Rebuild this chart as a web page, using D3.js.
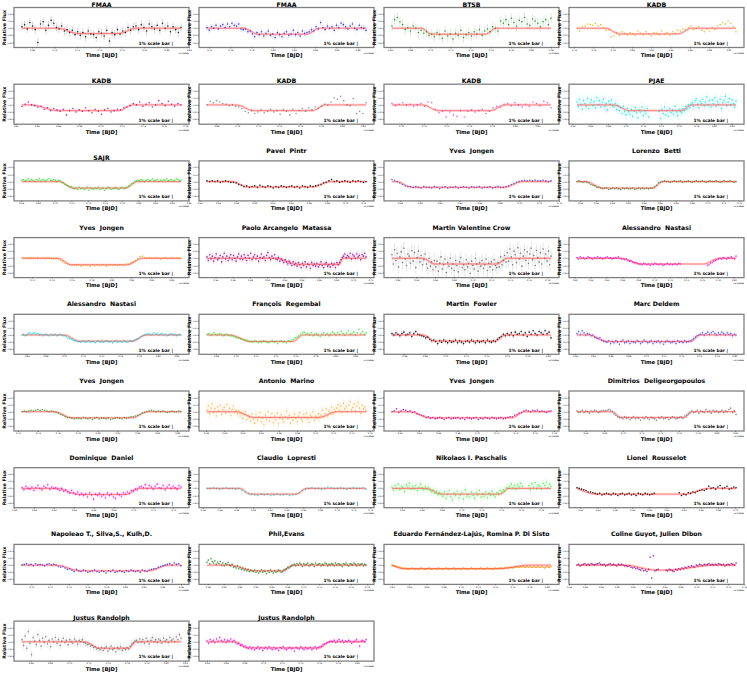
<!DOCTYPE html>
<html>
<head>
<meta charset="utf-8">
<script src="https://cdn.jsdelivr.net/npm/d3@7"></script>
<style>
  body { margin: 0; background: #fff; }
  text { font-family: "DejaVu Sans", sans-serif; }
</style>
</head>
<body>
<script>
// Panel titles, in reading order (4 per row)
const titles = [
  "FMAA", "FMAA", "BTSB", "KADB",
  "KADB", "KADB", "KADB", "PJAE",
  "SAJR", "Pavel  Pintr", "Yves  Jongen", "Lorenzo  Betti",
  "Yves  Jongen", "Paolo Arcangelo  Matassa", "Martin Valentine Crow", "Alessandro  Nastasi",
  "Alessandro  Nastasi", "François  Regembal", "Martin  Fowler", "Marc Deldem",
  "Yves  Jongen", "Antonio  Marino", "Yves  Jongen", "Dimitrios  Deligeorgopoulos",
  "Dominique  Daniel", "Claudio  Lopresti", "Nikolaos I. Paschalis", "Lionel  Rousselot",
  "Napoleao T., Silva,S., Kulh,D.", "Phil,Evans", "Eduardo Fernández-Lajús, Romina P. Di Sisto", "Coline Guyot, Julien Dibon",
  "Justus Randolph", "Justus Randolph"
];

// titles that sit right on the frame (short codes)
const lowTitles = [0, 1, 2, 3, 4, 5, 6, 7, 8, 32, 33];

const pointColors = [
  "#000000", "#1f1fff", "#118811", "#ffa500",
  "#b000b0", "#808080", "#ff33cc", "#00eeee",
  "#22ee22", "#000000", "#4444ff", "#2e8b2e",
  "#ffa020", "#990099", "#666666", "#ff00ff",
  "#00e5ee", "#33ee33", "#000000", "#4d4dff",
  "#2ca02c", "#ffb040", "#c000c0", "#808080",
  "#ff00ff", "#00dddd", "#33ff33", "#000000",
  "#3333ff", "#2e8b2e", "#ff8c00", "#990099",
  "#777777", "#ff00ff"
];

// error bar half size (ppt)
const errSizes = [
  6, 4, 7, 0,
  0, 0, 0, 6,
  1, 1.5, 1, 0.8,
  1, 4, 9, 1,
  1.2, 2, 3, 3,
  1, 6, 1.2, 2,
  3, 1, 5, 1.5,
  1.2, 2, 0.6, 1.5,
  5, 2.5
];

// transit depth of the model (ppt)
const depths = [
  7.5, 8.4, 8.4, 8,
  8, 8, 8, 8,
  9, 7.5, 8, 9,
  9, 8.4, 8, 8,
  8.5, 9, 8.5, 9,
  8.5, 8, 8.5, 8,
  8.5, 8, 8, 8,
  8, 8, 5, 7,
  9, 8.5
];

// model contact points as fraction of the observing window
const contacts = [
  [0.227, 0.352, 0.611, 0.714], [0.229, 0.322, 0.625, 0.708], [0.186, 0.248, 0.588, 0.654], [0.182, 0.265, 0.637, 0.72],
  [0.062, 0.218, 0.611, 0.693], [0.187, 0.291, 0.666, 0.739], [0.196, 0.289, 0.619, 0.711], [0.233, 0.327, 0.658, 0.72],
  [0.238, 0.321, 0.652, 0.725], [0.166, 0.25, 0.666, 0.77], [0.031, 0.123, 0.711, 0.814], [0.057, 0.161, 0.481, 0.534],
  [0.227, 0.311, 0.662, 0.756], [0.437, 0.562, 0.832, 0.853], [0.196, 0.268, 0.66, 0.722], [0.288, 0.39, 0.798, 0.892],
  [0.269, 0.357, 0.693, 0.78], [0.146, 0.27, 0.541, 0.603], [0.196, 0.268, 0.65, 0.711], [0.078, 0.181, 0.717, 0.771],
  [0.207, 0.311, 0.693, 0.787], [0.187, 0.291, 0.708, 0.812], [0.114, 0.237, 0.752, 0.835], [0.223, 0.275, 0.677, 0.72],
  [0.217, 0.362, 0.652, 0.735], [0.208, 0.27, 0.562, 0.625], [0.216, 0.31, 0.681, 0.731], [0.0, 0.12, 0.678, 0.827],
  [0.217, 0.362, 0.797, 0.921], [0.146, 0.291, 0.478, 0.541], [0.0, 0.073, 0.68, 0.856], [0.308, 0.49, 0.573, 0.863],
  [0.393, 0.487, 0.673, 0.715], [0.177, 0.25, 0.708, 0.77]
];

// observing windows: start (BJD - 2459000) and length in days
const timeStarts = [
  0.671, 0.738, 0.662, 0.743, 0.626, 0.671, 0.692, 0.645,
  0.661, 0.548, 0.572, 0.536, 0.710, 0.530, 0.614, 0.603,
  0.655, 0.671, 0.648, 0.622, 0.724, 0.581, 0.612, 0.651,
  0.588, 0.545, 0.630, 0.516, 0.690, 0.579, 0.620, 0.550,
  0.651, 0.640
];
const timeSpans = [
  0.142, 0.150, 0.158, 0.165, 0.150, 0.152, 0.140, 0.180,
  0.190, 0.175, 0.160, 0.200, 0.160, 0.185, 0.170, 0.200,
  0.170, 0.160, 0.155, 0.180, 0.160, 0.175, 0.165, 0.170,
  0.160, 0.190, 0.160, 0.185, 0.170, 0.200, 0.185, 0.200,
  0.165, 0.170
];

// relative flux minus one, in parts per thousand; null = no data
const _ = null;
const fluxes = [
  [2,5,-1,8,3,-2,-20,6,9,-3,4,11,7,1, -1,3,-4,-2,-6,-3,-9,-5, -10,-6,-12,-4,-8,-9,-13,-5,-7,-11,-3,-18,-6,-9,-2, -8,-4,-6,1,-3,2, 3,-2,5,1,-4,6,2,-1,4,-3,7,0,3,-5,2,-2,-6,1],
  [1,-3,2,0,4,-1,3,5,1,6,2,7,4,3,6,-1, -2,-1,-5,-4,-8,-12,-6, -9,-5,-11,-7,-4,-10,-8,-13,-6,-9,-12,-7,-5,-10,-8,-3,-9,-6,-11,-4,-7, -6,-5,-2,-4,2,-1, 8,1,-2,3,0,2,-3,4,1,7,5,2,-1,3,6,0,-2,4,1,0,-3],
  [3,12,15,9,5,-2,1,-4,3,0,-6, -3,-7,-5,-10,-8, -12,-6,-9,-14,-4,-11,-8,-15,-7,-10,-3,-13,-9,-6,-11,-5,-8,-2,-10,-4, -1,-5,2,0, -4,10,7,12,5,14,8,3,11,9,15,6,4,13,10,7,2,9,12,5,14],
  [0,-4,2,3,6,5,4,7,3,5,1, -3,-2,-12,-11,-6,-10, -5,-7,-9,-6,-8,-10,-4,-7,-9,-5,-8,-11,-6,-7,-9,-4,-8,-6,-10,-5,-7,-3, -4,-1,-2,1,3, -2,0,2,-3,-5,-1,-4,1,-2,3,5,8,6,10,7,2,-5],
  [-2,1,4,0, -1,-3,-2,-6,-4,-8,-5,-7, -9,-6,-14,-8,-5,-10,-7,-9,-4,-8,-11,-6,-9,-13,-7,-5,-10,-8,-6, -7,-4,-3,-1,2, 0,4,-2,1,3,-3,0,6,2,-1,5,1,-2,2,0],
  [0,5,3,6,4,2,1,-1,0,-2, -3,-5,-9,-11,-8, -12,-10,-7,-11,-9,-6,-10,-8,-13,-7,-9,-14,-6,-12,-8,-5,-9,-4,-7, -3,-5,-2,1, 0,4,10,8,12,6,0,-1,9,-12,-9,-12,3],
  [2,-1,1,3,0,1,-2,0,2, -2,4,3,-6, -11,-9,-17,-10,-14,-16,-8,-17,-9,-7,-10,-8,-6,-12,-9, -4,-2,-3,1, 2,-1,3,0,-3,1,-2,4,2,-1,5,3,-4],
  [4,-3,8,1,-6,6,2,-2,9,-5,3,7,-1,5,-4,10,0,6,-3,4,8,-2,2,-7,5,1,7,-1, -3,2,-6,-1,-8,-4,-12,-2,-9,-14,-5,-10,
   -13,-6,-16,-9,-4,-11,-18,-7,-10,-3,-15,-8,-12,-5,-17, _,_,_,_,_,_,_, -9,-19,-6,-12,-3,-14,-8,-16,-5,-11,-7,-13,-2,-10,-15,-6,-9,
   -11,-5,-8,-2,-6,0,-4,1, 3,-2,6,9,1,-4,5,2,8,-1,4,11,0,6,-3,7,2,10,-2,5,1,8,-5,3,6,12,-1,4,9,0,7,2,-3,5],
  [2,3,1,2,4,1,3,2,0,3,2,4,1,3,2,1,3,4,2,1,3,2,0,2, 1,-1,-2,-4,-5,-6,-8,-7,-9,
   -10,-9,-11,-8,-10,-9,-11,-10,-8,-12,-9,-10,-11,-9,-10,-8,-11,-10,-9,-12,-10,-8,-9,-11,-10,-9,-8,-10,-11,-9,-8,-10,-9,
   -8,-6,-5,-3,-2,0,1, 2,1,3,2,0,2,3,1,2,4,1,2,3,0,2,1,3,2,4,1,2,3,1,2,4,3,1,2],
  [1,0,1,0,1,-1,0,1,0,-1, -1,-2,-4,-5,-7,-6, -8,-7,-6,-8,-5,-7,-8,-6,-7,-9,-7,-8,-6,-7,-8,-7,-6,-8,-7,-9,-6,-7,-8,-6,-7, -6,-5,-4,-2,-1,1, 3,0,1,-1,0,1,0,-1,1,0,1,0,-1,0],
  [3,2, 0,-2,-4,-6,-7,-7, -8,-7,-8,-9,-7,-8,-8,-9,-7,-8,-10,-8,-7,-9,-8,-8,-7,-9,-8,-7,-8,-9,-7,-8,-8,-7,-9,-8,-8,-7,-9,-8,-7,-8,-8, -7,-6,-4,-3,-1,0, 1,2,1,2,1,2,1,1,2,1,0,1],
  [0,1,0,-1,0, -1,-2,-4,-5,-6,-8,-8,-9, -10,-9,-9,-11,-10,-9,-10,-9,-10,-11,-9,-10,-9,-10,-10,-9,-11,-10,-9,-10,-9,-10,-9,-10,-9,-9, -7,-5,-2,-1,
   0,1,0,0,-1,0,1,0,0,1,-1,0,0,1,0,-1,0,1,0,0,1,0,-1,0,1,0,0,1,0,-1,0,1,0,0,1,0,-1,0],
  [1,0,1,0,1,1,0,1,0,1,0,1,1,0,-1,0, -1,-3,-5,-7,-8,-9, -10,-9,-10,-9,-11,-10,-9,-10,-11,-9,-10,-9,-10,-10,-9,-11,-10,-9,-10,-9,-10,-9,-9,-10,-8, -8,-6,-5,-3,-1,2, 3,1,0,1,0,0,1,0,-1,0,1,0,0,1,0,1,0,0],
  [2,-3,5,-1,3,-4,1,6,-2,0,4,-5,2,7,-1,3,-3,1,5,-2,4,0,-4,2,6,-1,3,-2,5,1,-3,4,0,7,-2,2,5,-1,3,-4,1,6,0,2,-3,4,8,1,-2,3,0,5,-1,
   -2,1,-4,-1,-3,-6,-2,-5,-8,-4,-7,-10,-5,-9,-7,
   -11,-6,-9,-13,-7,-10,-5,-12,-8,-9,-14,-6,-10,-8,-11,-7,-12,-9,-5,-10,-13,-8,-6,-11,-9,-12,-7,-10,-8,-13,-6,-9,
   -6,-2,1, 3,6,1,4,2,7,-1,5,3,0,6,2,4,-2,5,3,7,2],
  [5,-8,12,-3,7,-12,2,9,-6,14,-1,-10,6,3,-7,11,-4,8,-13,1,10,-5,4,-9, -2,6,-8,-14,0,-11,-5,-16,-3,
   -12,-4,-18,-7,2,-15,-9,-1,-20,-6,-11,0,-14,-8,-17,-3,-10,-19,-5,1,-13,-9,-16,-2,-12,-7,-21,-4,-10,-15,0,-8,-18,-6,-11,-3,-14,-9,-1,-17,-7,-12,-5,-16,-2,-10,-13,
   -6,-12,2,-9,-3,4,-5, 8,-4,13,2,-9,10,5,-6,15,-1,7,-11,3,12,-3,9,-7,6,14,-2,4,-10,11,1,-5,8,-8,13,0,6,-4,10,-9,3],
  [1,-1,2,0,1,-1,0,2,1,0,-1,1,0,2,0,1,-1,0,1,2,0,1,-1,0,1,0,2,0,-1, -1,-2,-1,-3,-4,-3,-5,-6,-6,-7,-8,
   -8,-9,-7,-8,-9,-8,-10,-8,-9,-7,-8,-9,-8,-8,-10,-9,-8,-7,-9,-8,-9,-8,-8,-9,-7,-8,
   _,_,_,_,_,_,_,_,_,_,_,_,_,_,_,_, -10,-9,-7,-6,-4,-3,-2,-1, 0,-1,1,0,-1,1,0,2,0,-1,3],
  [0,1,-1,0,2,3,1,2,3,1,2,0,1,-1,0,1,0,-1,1,0,0,1,-1,0,1,0,-1, -1,-2,-4,-5,-6,-7,-8,-8,-9,
   -9,-10,-8,-9,-10,-9,-8,-10,-9,-9,-11,-9,-8,-10,-9,-10,-9,-8,-9,-10,-9,-11,-9,-8,-10,-9,-9,-10,-8,-9,-10,-9,-8,-9,
   -8,-7,-6,-5,-4,-2,-1,0,1, 1,2,0,1,3,1,2,0,1,2,0,1,-1,0,1,2,0,1,-1,0,1,0],
  [1,2,0,1,3,1,0,2,1,-1,0,1,0, -1,-1,-2,-3,-4,-4,-5,-6,-7,-7,-8,-9,
   -9,-10,-8,-9,-11,-9,-10,-8,-9,-10,-11,-9,-8,-10,-9,-12,-9,-8,-10,-9,-11,-8,-9,-7, -6,-4,-3,-1,1,3,
   4,1,2,0,3,-1,1,2,0,-2,1,3,0,2,-1,1,4,2,0,3,1,5,2,0,3,6,1,2,4,0,3,8,2,5,1,3],
  [2,0,3,1,-1,2,4,0,1,3,-2,2,5,1,0,-1, -2,-4,-3,-6,-8,-7,
   -9,-12,-8,-10,-7,-9,-11,-8,-10,-9,-7,-11,-8,-10,-12,-9,-8,-10,-7,-9,-11,-8,-10,-9,-8,-11,-7,-9,-10,-8,-9,
   -6,-4,-2,1,-1, 2,0,3,-1,4,1,2,5,0,3,-2,4,1,6,2,0,5,3,1,6,2,4,-4],
  [2,5,1,6,3,0,2, 1,-1,0,-3,-4,-5,-4,-7,-8,-9,
   -10,-8,-12,-9,-11,-8,-10,-13,-9,-7,-11,-10,-8,-12,-9,-10,-11,-8,-9,-12,-10,-7,-9,-11,-10,-8,-12,-9,-10,-8,-11,-9,-13,-10,-8,-9,-11,-10,-9,-12,-8,-10,-9,-11,-8,-10,-9,-8,
   -7,-5,-3,-1,0, 1,3,0,2,4,1,3,5,2,0,3,1,4,2,0,3,1,2,-1,1,0],
  [0,1,0,1,2,1,2,3,2,3,2,1,0,1,0, -1,-2,-4,-5,-7,-8,-8,
   -9,-10,-9,-9,-10,-8,-9,-10,-9,-11,-9,-8,-10,-9,-9,-10,-9,-11,-10,-9,-8,-9,-10,-8,-9,-8,-7,
   -7,-6,-5,-4,-2,-1,0, 1,2,1,0,1,0,1,0,-1,0,1,0,0,1,0],
  [2,8,-3,5,11,-1,4,-6,7,1,9,-4,3,6,-2,10,0,5,-5,3,8,-1,2, -3,1,-6,-2,-9,-4,0,-11,-5,-8,-13,-3,
   -10,-16,-4,-12,-7,-1,-14,-9,-18,-5,-11,0,-13,-8,-3,-15,-6,-12,-2,-17,-9,-4,-11,-14,-7,1,-10,-5,-16,-8,-12,-3,-9,-14,-6,-1,-11,-13,-4,-8,-2,-10,-15,-5,-7,0,-12,-6,-9,-3,-8,
   -5,2,-7,-3,4,-6,1,-2,6,-4,3,0, 5,10,2,8,-1,12,4,7,0,9,14,3,6,11,1,8,13,5,-2,9,4,7,2],
  [0,1,4,-1,1,3,2,0, 1,-1,0,-3,-4,-5,-6,-8,-7,
   -9,-8,-10,-9,-8,-9,-11,-9,-8,-10,-9,-9,-8,-10,-9,-11,-8,-9,-10,-9,-8,-11,-9,-10,-8,-9,-10,-8,-9,-10,-9,-8,-10,-9,-8,-7,
   -7,-5,-4,-2,-1,1, 2,1,0,2,1,2,0,1,0,-1,1,1],
  [1,-1,0,2,-1,1,0,-2,1,0,2,1,-1,0,1,2,1,2,3,2, 0,-3,-5,-7,-8,
   -8,-10,-7,-9,-8,-11,-9,-7,-10,-8,-9,-12,-8,-10,-7,-9,-11,-8,-9,-10,-12,-8,-9,-7,-10,-9,-8,-11,-9,-7,-8,-10,-9,-8,-7,-9,-6,
   -5,-3,-1, 1,-1,0,2,-2,1,0,-1,3,0,1,-2,2,0,1,-1,0,2,-1,1,0,3,5,-1,1,-4],
  [1,-2,3,0,-1,2,-3,1,4,0,-2,3,1,5,-1,2,0,1, -1,-3,0,-4,-2,-5,-7,-3,-6,-8,-5,-9,
   -7,-10,-8,-12,-6,-9,-15,-8,-10,-7,-11,-9,-13,-6,-10,-8,-12,-14,-7,-9,-11,-6,-8,
   -5,-7,-3,-4,-1,-2,2, 3,1,5,0,4,2,-1,3,6,1,0,4,-2,2,5,0,3,1,-1,4,2],
  [0,0,1,0,-1,0,1,0,0,-1,0, -3,-5,-7, -8,-9,-10,-8,-9,-8,-10,-9,-8,-9,-9,-8,-10,-9,-8, -6,-3,-1, 0,1,0,0,-1,0,2,1,0,0,1,0,-1,0,1,0,0,1,-1],
  [2,-3,4,0,6,-2,3,1,-4,5,2,7,-1,3,0,4,-3,2,6,1,-2,3, -1,1,-3,-5,-2,-7,-4,-9,-6,-8,
   -11,-5,-14,-8,-3,-12,-16,-7,-10,-4,-13,-9,-6,-15,-2,-11,-8,-12,-5,-10,-14,-6,-9,-3,-12,-8,-11,-5,-13,-7,-10,-4,-9,-12,-6,-8,-3,
   -5,-2,-4,1,0, 3,6,1,4,-1,5,2,7,3, _,_,_, 4,-2,6,2,8,0,5,3,-1,7,4,9,1,6,3],
  [1,0,-1,-2,-3,-5,-5,-6,-7,
   -8,-7,-9,-8,-7,-8,-9,-7,-8,-10,-8,-7,-9,-8,-7,-9,-8,-10,-7,-8,-9,-7,-8,-9,-8,-7,
   _,_,_,_,_,_,_,_,_,_, -6,-10,-8, -9,-6,-7,-5,-6,-4,-3,-2,-3,-1, 3,0,1,-1,2,4,0,1,3,-1,0,2,1],
  [0,1,2,0,1,-1,2,0,1,0,-1,1,2,0,1,0, -2,-3,-2,-4,-6,-5,-7,-9,-6,-8,
   -9,-7,-8,-10,-9,-8,-7,-9,-10,-8,-9,-11,-8,-9,-7,-10,-9,-8,-9,-10,-8,-9,-7,-8,-9,-8,-10,-7,-8,-9,
   -7,-6,-5,-5,-3,-2,-1,0,1, 2,0,3,1,2,-1],
  [4,7,2,9,5,3,6,1,4,2,5,0,3,-1,2,1,4,0, -1,1,-3,-2,-4,-1,-5,-3,-6,-4,-7,-5,-8,-6,-9,-7,-8,
   -9,-7,-10,-8,-11,-9,-7,-10,-8,-9,-12,-8,-10,-7,-9,-11,-8,-10,-9,-7,-8,-10,-9,
   -7,-6,-5,-3,-4,-2,-1,0,
   1,-1,2,0,3,1,-2,2,0,1,3,-1,0,2,1,-2,3,0,1,2,-1,1,0,3,2,-1,1,0,2,1,-1,3,0,2,1,0,-2,2,1,3,0,-1,2,1,0,3,1,-1,2,0,1,2,-1,1,0],
  [0,-1,-1,-2,-2,-3,-3,-4,-4,
   -5,-4,-5,-6,-5,-5,-4,-5,-6,-5, -5,-6,-5,-4,-5,-5,-6,-5,-5,-4, -5,-6,-5,-5,-5,-6,-4,-5,-5,-6, -5,-5,-4,-5,-6,-5,-5,-5,-4,-6,
   -5,-5,-5,-6,-5,-4,-5,-5,-6,-5, -5,-4,-5,-5,-6,-5,-5,-5,-4,-5, -6,-5,-5,-4,-5,-5,-5,-6,-5,-4, -5,-5,-4,
   -4,-4,-5,-4,-3,-4,-4,-3,-3,-4,-3,-3,-2,-3,-3,-2,-3,-2,-3,-3,-2,
   -3,-2,-3,-3,-2,-3,-3,-2,-3,-3,-2,-3,-4,-3,-2,-3,-3,-2],
  [0,1,-1,0,1,2,0,1,0,2,1,0,1,2,3,1,0,1,-1,0,1,2,0,1,0,-1,1,0,1,0,-1,
   -1,-2,-1,-3,-4,-3,-5,-4,-6,-7,-5,-8,-7,-9,-6,11,-18,13,-8,
   -7,-6,_,_,_,_,-7,-8,
   -6,-7,-8,-9,-6,-7,-5,-6,-4,-5,-3,-4,-2,-3,-1,-2,-3,0,-1,1,0,-1,1,0,1,2,0,1,0,
   1,0,2,1,0,1,-1,0,1,0,2,1,0,3],
  [3,-5,8,-9,14,-2,-18,6,1,-4,10,2,-6,5,-1,7,-3,2,-7,4,0,6,-2,3,-5,1,5,-1,2,-4,3,0,-2,4,1,-3,2,0,3,-1,
   -2,-4,-3,-6,-5,-8,-7,-10,-9, -11,-8,-12,-9,-7,-13,-10,-6,-11,-9,-14,-8,-10,-7,-12,-9,-11,-8,-10,
   -6,-3,-1,1, 2,-1,4,0,3,-2,5,1,-3,2,6,0,3,-1,4,2,-2,5,1,3,-1,6,2,4,0,7,3,10,5],
  [1,-2,3,0,2,-1,4,1,6,2,0,3,-1,2,1,4,0,2, -1,-3,-2,-5,-4,-7,-6,-8,
   -9,-7,-10,-8,-11,-9,-7,-10,-8,-12,-9,-8,-10,-7,-9,-11,-8,-10,-9,-12,-8,-9,-7,-10,-11,-9,-8,-10,-9,-13,-8,-9,-10,-7,-9,-11,-8,-10,-9,-8,-11,-9,-7,-10,-8,
   -7,-6,-4,-3,-2,-1,0, 1,0,2,-1,1,3,0,2,-1,1,0,2,1,-2,0,1,3,0,-6,1,2,0,3]
];

// y ticks (ppt) and frame geometry
const yTicks = [-20, -10, 0, 10, 20];
const yDomain = [-27, 29];
const plotW = 175, plotH = 40;
const colStep = 185, rowStep = 76.7, left0 = 14, top0 = 7.5;

const svg = d3.select("body").append("svg")
  .attr("width", 747)
  .attr("height", 673);

titles.forEach((title, k) => {
  const col = k % 4, row = Math.floor(k / 4);
  const g = svg.append("g")
    .attr("transform", `translate(${left0 + col * colStep},${top0 + row * rowStep})`);

  const flux = fluxes[k];
  const n = flux.length;
  const t0 = timeStarts[k], span = timeSpans[k];
  const pad = span * 0.05;

  const x = d3.scaleLinear().domain([t0 - pad, t0 + span + pad]).range([0, plotW]);
  const y = d3.scaleLinear().domain(yDomain).range([plotH, 0]);

  // clip to frame
  const clipId = "clip" + k;
  g.append("clipPath").attr("id", clipId)
    .append("rect").attr("width", plotW).attr("height", plotH);
  const inner = g.append("g").attr("clip-path", `url(#${clipId})`);

  const pts = flux.map((v, i) => ({ t: t0 + span * i / (n - 1), v }))
    .filter(d => d.v !== null);

  const color = pointColors[k];
  const err = errSizes[k];

  // error bars
  if (err > 0) {
    inner.append("g")
      .selectAll("line")
      .data(pts)
      .join("line")
      .attr("x1", d => x(d.t)).attr("x2", d => x(d.t))
      .attr("y1", d => y(d.v - err)).attr("y2", d => y(d.v + err))
      .attr("stroke", color)
      .attr("stroke-opacity", 0.28)
      .attr("stroke-width", 0.6);
  }

  // transit model
  const c = contacts[k], depth = depths[k];
  let verts = [
    [t0, 0], [t0 + c[0] * span, 0], [t0 + c[1] * span, -depth],
    [t0 + c[2] * span, -depth], [t0 + c[3] * span, 0], [t0 + span, 0]
  ];
  verts = verts.filter((p, i) => i === 0 || p[0] > verts[i - 1][0] + 1e-6);
  const line = d3.line().x(p => x(p[0])).y(p => y(p[1])).curve(d3.curveMonotoneX);
  inner.append("path").attr("d", line(verts))
    .attr("fill", "none").attr("stroke", "#ff3030")
    .attr("stroke-opacity", 0.18).attr("stroke-width", 2.6);

  // data points
  inner.append("g")
    .selectAll("circle")
    .data(pts)
    .join("circle")
    .attr("cx", d => x(d.t))
    .attr("cy", d => y(d.v))
    .attr("r", 0.8)
    .attr("fill", color)
    .attr("fill-opacity", 0.85);

  inner.append("path").attr("d", line(verts))
    .attr("fill", "none").attr("stroke", "#ff2a2a")
    .attr("stroke-opacity", 0.55).attr("stroke-width", 0.9);

  // frame
  g.append("rect")
    .attr("width", plotW).attr("height", plotH)
    .attr("fill", "none").attr("stroke", "#808080").attr("stroke-width", 1.3);

  // axes
  const yAxis = g.append("g")
    .call(d3.axisLeft(y).tickValues(yTicks)
      .tickFormat(v => (1 + v / 1000).toFixed(3)).tickSize(1).tickPadding(0.4));
  yAxis.select(".domain").remove();
  yAxis.selectAll("text").attr("font-size", 1.8).attr("font-family", "DejaVu Sans");
  yAxis.selectAll("line").attr("stroke-width", 0.4);

  const xAxis = g.append("g")
    .attr("transform", `translate(0,${plotH})`)
    .call(d3.axisBottom(x).ticks(7).tickSize(1).tickPadding(0.6));
  xAxis.select(".domain").remove();
  xAxis.selectAll("text").attr("font-size", 2.2).attr("font-family", "DejaVu Sans");
  xAxis.selectAll("line").attr("stroke-width", 0.4);

  g.append("text")
    .attr("x", plotW).attr("y", plotH + 6.4)
    .attr("text-anchor", "end")
    .attr("font-size", 2.2)
    .text("+2.459e6");

  // labels
  g.append("text")
    .attr("x", plotW / 2).attr("y", plotH + 9.6)
    .attr("text-anchor", "middle")
    .attr("font-size", 5.3).attr("font-weight", "bold")
    .text("Time [BJD]");

  g.append("text")
    .attr("transform", `translate(-7.6,${plotH / 2}) rotate(-90)`)
    .attr("text-anchor", "middle")
    .attr("font-size", 4.8).attr("font-weight", "bold")
    .text("Relative Flux");

  g.append("text")
    .attr("x", plotW - 16).attr("y", plotH - 2.6)
    .attr("text-anchor", "end")
    .attr("font-size", 4.4).attr("font-weight", "bold")
    .text("1% scale bar |");

  g.append("text")
    .attr("x", plotW / 2)
    .attr("y", lowTitles.includes(k) ? -0.8 : -8)
    .attr("text-anchor", "middle")
    .attr("font-size", 6.2).attr("font-weight", "bold")
    .style("white-space", "pre")
    .text(title);
});
</script>
</body>
</html>
